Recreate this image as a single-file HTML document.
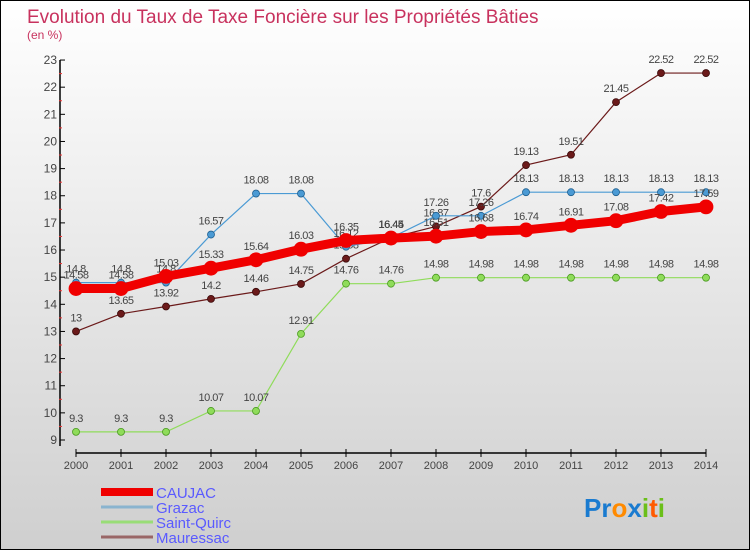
<!DOCTYPE html>
<html><head><meta charset="utf-8"><style>
body{margin:0}
#wrap{width:748px;height:548px;border:1px solid #000;position:relative;background:linear-gradient(#ffffff,#cfcfcf);font-family:"Liberation Sans",sans-serif;overflow:hidden}
</style></head><body>
<div id="wrap">
<svg id="svg" width="748" height="548" style="position:absolute;left:0;top:0">
<text x="26" y="22" font-size="19" fill="#c8325e">Evolution du Taux de Taxe Foncière sur les Propriétés Bâties</text>
<text x="26" y="38" font-size="12" fill="#c8325e">(en %)</text>
<g id="axes"></g><g id="series"></g><g id="legend"></g>
<text x="583" y="516" font-size="26" font-weight="bold"><tspan fill="#1a7bd0">Pr</tspan><tspan fill="#ff8a00">o</tspan><tspan fill="#1a7bd0">x</tspan><tspan fill="#6bbf1a">i</tspan><tspan fill="#ff5a00">t</tspan><tspan fill="#6bbf1a">i</tspan></text>
</svg>
</div>
<script>
const years=[2000,2001,2002,2003,2004,2005,2006,2007,2008,2009,2010,2011,2012,2013,2014];
const yTicks=[9,10,11,12,13,14,15,16,17,18,19,20,21,22,23];
const caujac=[14.58,14.58,15.03,15.33,15.64,16.03,16.35,16.44,16.51,16.68,16.74,16.91,17.08,17.42,17.59];
const grazac=[14.8,14.8,14.8,16.57,18.08,18.08,16.12,16.45,17.26,17.26,18.13,18.13,18.13,18.13,18.13];
const saintQuirc=[9.3,9.3,9.3,10.07,10.07,12.91,14.76,14.76,14.98,14.98,14.98,14.98,14.98,14.98,14.98];
const mauressac=[13,13.65,13.92,14.2,14.46,14.75,15.68,16.45,16.87,17.6,19.13,19.51,21.45,22.52,22.52];
const seriesNames=["CAUJAC","Grazac","Saint-Quirc","Mauressac"];
const NS="http://www.w3.org/2000/svg";
const x=i=>75+45*i;
const y=v=>439-(v-9)*27.14;
function mk(t,a,p){const e=document.createElementNS(NS,t);for(const k in a)e.setAttribute(k,a[k]);p.appendChild(e);return e;}
const axes=document.getElementById('axes');
let ax=mk('line',{x1:59,y1:y(23),x2:59,y2:445,stroke:'#000','stroke-width':1.5},axes);

let bx=mk('line',{x1:75,y1:452,x2:705,y2:452,stroke:'#000','stroke-width':1.5},axes);

yTicks.forEach(v=>{
 mk('line',{x1:59,y1:y(v),x2:64,y2:y(v),stroke:'#000'},axes);
 if(v<23)mk('line',{x1:58,y1:y(v+0.5),x2:61,y2:y(v+0.5),stroke:'#e33'},axes);
 const t=mk('text',{x:56,y:y(v)+4,'font-size':12,fill:'#444','text-anchor':'end'},axes);t.textContent=v;
 
});
years.forEach((yr,i)=>{
 mk('line',{x1:x(i),y1:448,x2:x(i),y2:456,stroke:'#000'},axes);
 const t=mk('text',{x:x(i),y:468,'font-size':11,fill:'#444','text-anchor':'middle'},axes);t.textContent=yr;
 
});
const sg=document.getElementById('series');
function draw(vals,color,w,r,name,dotStroke){
 const g=mk('g',{},sg);
 
 const pl=mk('polyline',{points:vals.map((v,i)=>x(i)+','+y(v)).join(' '),fill:'none',stroke:color,'stroke-width':w},g);
 
 vals.forEach((v,i)=>{
  const c=mk('circle',{cx:x(i),cy:y(v),r:r,fill:color,stroke:dotStroke,'stroke-width':0.8},g);
  
  const t=mk('text',{x:x(i),y:y(v)-10,'font-size':11,fill:'#444','text-anchor':'middle','letter-spacing':'-0.5'},g);
  t.textContent=v;
  
 });
}
draw(saintQuirc,'#8fdc5a',1.2,3.5,'saint-quirc','#4a9a20');
draw(mauressac,'#6b1a1a',1.2,3.5,'mauressac','#3a0a0a');
draw(grazac,'#4a9ad4',1.2,3.5,'grazac','#206090');
draw(caujac,'#f00000',9,7,'caujac','#f00000');
const lg=document.getElementById('legend');
const lc=['#f00000','#8ab4cf','#99dd77','#996666'],lw=[8,3,3,3];
seriesNames.forEach((n,i)=>{
 const g=mk('g',{},lg);
 
 mk('line',{x1:100,y1:491+i*15,x2:152,y2:491+i*15,stroke:lc[i],'stroke-width':lw[i]},g);
 const t=mk('text',{x:155,y:497+i*15,'font-size':15,fill:'#5a5aff'},g);t.textContent=n;
});
</script>
</body></html>
